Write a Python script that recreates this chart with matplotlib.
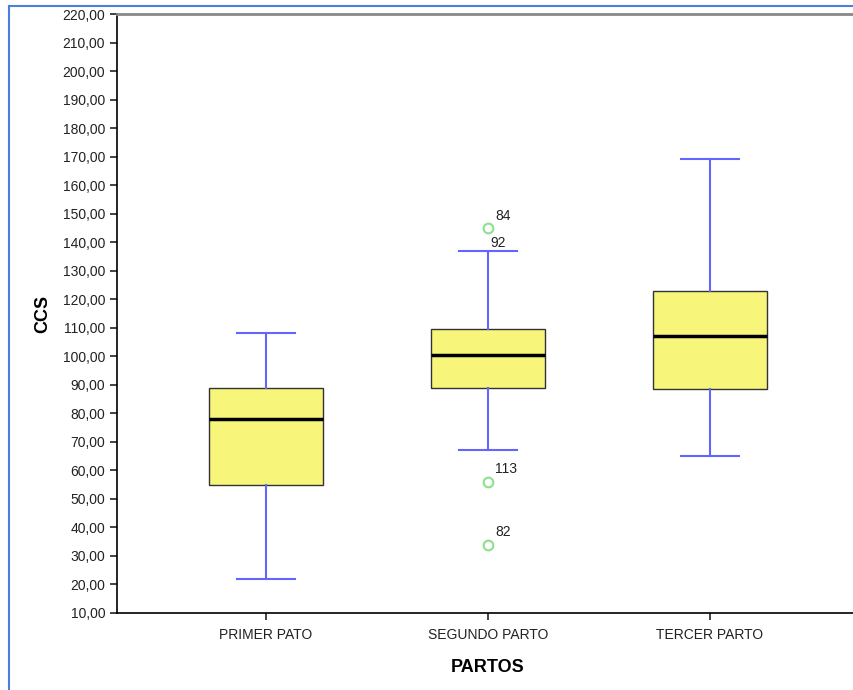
import matplotlib.pyplot as plt
from matplotlib.lines import Line2D
from matplotlib.ticker import FuncFormatter

plt.rcParams['font.family'] = ['Liberation Sans', 'DejaVu Sans']

# box statistics
categories = ['PRIMER PATO', 'SEGUNDO PARTO', 'TERCER PARTO']
whislo = [22, 67, 65]
q1 = [55, 89, 88.5]
med = [78, 100.5, 107]
q3 = [89, 109.5, 123]
whishi = [108, 137, 169]

# outliers: (category index, value, case label)
outlier_pos = [2, 2, 2]
outlier_val = [145, 56, 34]
outlier_lab = ['84', '113', '82']
# case 92 is labelled at the top whisker
extra_lab = ('92', 2, 137)

stats = []
for i in range(len(categories)):
    stats.append({'whislo': whislo[i], 'q1': q1[i], 'med': med[i],
                  'q3': q3[i], 'whishi': whishi[i], 'fliers': []})

fig = plt.figure(figsize=(8.54, 6.9), dpi=100)
ax = fig.add_axes([117 / 854, 1 - 613 / 690, 742 / 854, 599 / 690])

ax.bxp(stats, positions=[1, 2, 3], widths=0.51, patch_artist=True,
       boxprops=dict(facecolor='#f7f57a', edgecolor='#333333', linewidth=1),
       medianprops=dict(color='black', linewidth=2.5),
       whiskerprops=dict(color='#6464ff', linewidth=1.5),
       capprops=dict(color='#6464ff', linewidth=1.5),
       capwidths=0.26, showfliers=False)

ax.plot(outlier_pos, outlier_val, 'o', markersize=7, markerfacecolor='none',
        markeredgecolor='#8ee08e', markeredgewidth=1.5)
for x, y, lab in zip(outlier_pos, outlier_val, outlier_lab):
    ax.annotate(lab, (x, y), xytext=(5, 6), textcoords='offset points',
                fontsize=10, color='#222222')
ax.annotate(extra_lab[0], (extra_lab[1], extra_lab[2]), xytext=(2, 3),
            textcoords='offset points', fontsize=10, color='#222222')

ax.set_xlim(0.329, 3.671)
ax.set_ylim(10, 220)
ax.set_yticks(range(10, 221, 10))
ax.yaxis.set_major_formatter(FuncFormatter(lambda v, p: f'{v:.2f}'.replace('.', ',')))
ax.set_xticks([1, 2, 3])
ax.set_xticklabels(categories)
ax.tick_params(axis='both', direction='out', length=5, width=1.2,
               labelsize=10, colors='#222222')
ax.tick_params(axis='x', pad=6)

ax.spines['right'].set_visible(False)
ax.spines['top'].set_color('#888888')
ax.spines['top'].set_linewidth(2)
ax.spines['left'].set_linewidth(1.2)
ax.spines['bottom'].set_linewidth(1.2)

ax.set_ylabel('CCS', fontsize=13, fontweight='bold', labelpad=8)
ax.set_xlabel('PARTOS', fontsize=13, fontweight='bold', labelpad=12)

# blue frame around the output viewer
fig.add_artist(Line2D([9 / 854, 9 / 854], [0, 1 - 6 / 690], color='#4a7fdc',
                      linewidth=1.5, transform=fig.transFigure))
fig.add_artist(Line2D([9 / 854, 1], [1 - 6 / 690, 1 - 6 / 690], color='#4a7fdc',
                      linewidth=1.5, transform=fig.transFigure))

fig.savefig('out.png', dpi=100)
